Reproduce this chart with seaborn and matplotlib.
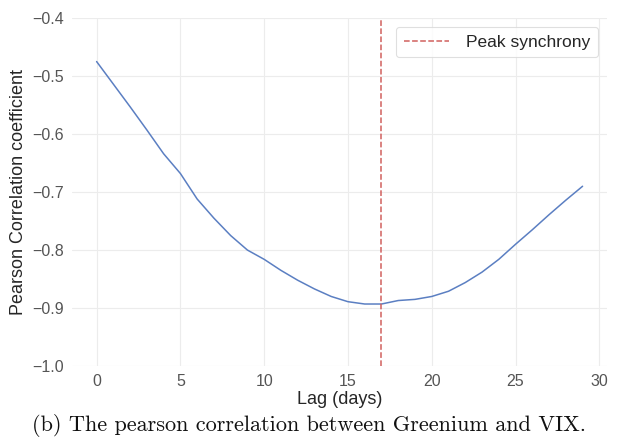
import numpy as np
import pandas as pd
import matplotlib
matplotlib.use("Agg")
import matplotlib.pyplot as plt
import seaborn as sns

# lag (days) and the Pearson correlation
lags = list(range(30))
corr = [-0.475, -0.514, -0.553, -0.593, -0.634, -0.668, -0.712, -0.745, -0.775, -0.800,
        -0.816, -0.835, -0.852, -0.867, -0.880, -0.889, -0.893, -0.893, -0.887, -0.885,
        -0.880, -0.871, -0.856, -0.838, -0.816, -0.790, -0.765, -0.739, -0.714, -0.690]
peak_lag = 17

sns.set_theme(style="whitegrid")
plt.rcParams["font.family"] = ["Liberation Sans", "DejaVu Sans"]
plt.rcParams["grid.color"] = "#ececec"
plt.rcParams["grid.linewidth"] = 0.8

df = pd.DataFrame({"lag": lags, "corr": corr})

fig = plt.figure(figsize=(6.18, 4.4), dpi=100)
ax = fig.add_axes([0.117, 0.168, 0.865, 0.791])

sns.lineplot(data=df, x="lag", y="corr", ax=ax, color="#5b7fc2", linewidth=1.1)
ax.axvline(peak_lag, color="#d1605e", linestyle="--", linewidth=1.1, label="Peak synchrony")

ax.set_ylim(-1.0, -0.4)
ax.set_xticks([0, 5, 10, 15, 20, 25, 30])
ax.set_yticks(np.arange(-1.0, -0.35, 0.1))
ax.tick_params(labelsize=11.5, colors="#555555", length=0, pad=6)
for s in ax.spines.values():
    s.set_visible(False)

ax.set_xlabel("Lag (days)", fontsize=13, color="#262626", labelpad=1)
ax.set_ylabel("Pearson Correlation coefficient", fontsize=13, color="#262626", labelpad=4)

leg = ax.legend(loc="upper right", fontsize=12.5, frameon=True, borderpad=0.45,
                handlelength=2.6, handletextpad=1.0)
leg.get_frame().set_edgecolor("#d8d8d8")
leg.get_frame().set_linewidth(0.8)

fig.text(0.5, 0.032, "(b) The pearson correlation between Greenium and VIX.",
         ha="center", va="center", fontsize=16, family="cmr10", color="#111111")

fig.savefig("out.png", dpi=100)
